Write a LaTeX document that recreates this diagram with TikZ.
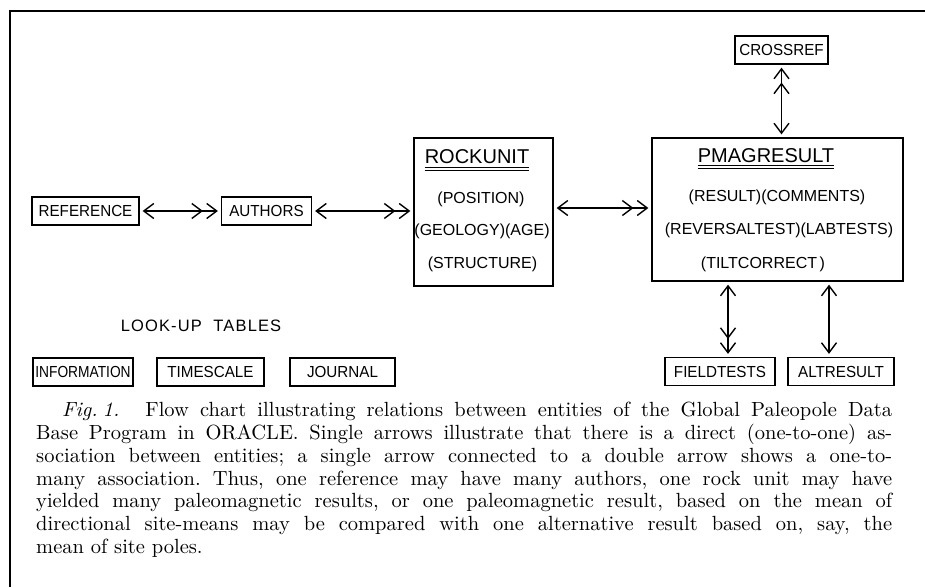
\documentclass[tikz,border=0pt]{standalone}
\usepackage{fontspec}
\setsansfont{Liberation Sans}
\newfontfamily\boxfont{Liberation Sans}[FakeStretch=0.95]
\newfontfamily\narrowbox{Liberation Sans}[FakeStretch=0.86]
\newfontfamily\capfont{lmroman10-regular}[Extension=.otf,ItalicFont=lmroman10-italic]
\usetikzlibrary{arrows.meta}
\begin{document}
\begin{tikzpicture}[x=1pt,y=-1pt,
  >={Straight Barb[length=10pt,width=15pt,sep=3pt]},
  box/.style={draw,line width=1.3pt,inner sep=0pt,minimum height=28pt,
    font=\boxfont\fontsize{16}{19}\selectfont},
  entity/.style={draw,line width=1.3pt,inner sep=0pt},
  ttl/.style={inner sep=0pt,anchor=base,font=\sffamily\fontsize{20}{24}\selectfont},
  row/.style={inner sep=0pt,anchor=base,font=\sffamily\fontsize{16}{19}\selectfont},
  link/.style={line width=1.4pt},
  uline/.style={line width=1.1pt}]
\useasboundingbox (0,0) rectangle (925,587);
% frame
\draw[line width=2.6pt] (10,587) -- (10,11) -- (925,11);

% small boxes
\node[box,minimum width=107pt] (ref) at (85.5,211) {REFERENCE};
\node[box,minimum width=90pt] (auth) at (266.5,211) {AUTHORS};
\node[box,minimum width=93pt] (cross) at (781.5,50) {CROSSREF};
\node[box,minimum width=110pt] (field) at (720,371.5) {FIELDTESTS};
\node[box,minimum width=106pt] (alt) at (841,371.5) {ALTRESULT};
\node[box,minimum width=100pt,font=\narrowbox\fontsize{16}{19}\selectfont] (info) at (83,372) {INFORMATION};
\node[box,minimum width=107pt] (time) at (210.5,372) {TIMESCALE};
\node[box,minimum width=105pt] (jour) at (342.5,372) {JOURNAL};

% entity boxes
\node[entity,minimum width=139pt,minimum height=148pt] (rock) at (483.5,212) {};
\node[entity,minimum width=251pt,minimum height=143pt] (pmag) at (777.5,209.5) {};

% ROCKUNIT contents
\node[ttl] (rt) at (477,163) {ROCKUNIT};
\draw[uline] ([yshift=-4pt]rt.south west) -- ([yshift=-4pt]rt.south east);
\draw[uline] ([yshift=-7pt]rt.south west) -- ([yshift=-7pt]rt.south east);
\node[row] (r1) at (481,203) {(POSITION)};
\node[row] (r2) at (482,235) {(GEOLOGY)(AGE)};
\node[row] (r3) at (482.5,268) {(STRUCTURE)};

% PMAGRESULT contents
\node[ttl] (pt) at (766,162) {PMAGRESULT};
\draw[uline] ([yshift=-3pt]pt.south west) -- ([yshift=-3pt]pt.south east);
\draw[uline] ([yshift=-6pt]pt.south west) -- ([yshift=-6pt]pt.south east);
\node[row] (p1) at (777,201) {(RESULT)(COMMENTS)};
\node[row] (p2) at (779,234) {(REVERSALTEST)(LABTESTS)};
\node[row] (p3) at (763,268) {(TILTCORRECT\,)};

% look-up tables label
\node[inner sep=0pt,font=\sffamily\fontsize{16.5}{19}\selectfont] (lut) at (201,326)
  {\addfontfeatures{LetterSpace=7}LOOK-UP\ \ TABLES};

% connectors
\coordinate (ry) at (0,208);
\coordinate (xc) at (781.5,0);
\coordinate (xf) at (728,0);
\coordinate (xa) at (829,0);
\draw[link,<->>] (ref.east) -- (auth.west);
\draw[link,<->>] (auth.east) -- (rock.west |- auth.east);
\draw[link,<->>] (rock.east |- ry) -- (pmag.west |- ry);
\draw[link,<->>] (pmag.north -| xc) -- (cross.south -| xc);
\draw[link,<->>] (pmag.south -| xf) -- (field.north -| xf);
\draw[link,<->] (pmag.south -| xa) -- (alt.north -| xa);

% caption
\node[anchor=north west,inner sep=0pt] (cap) at (36,402) {\vbox{%
  \capfont\fontsize{20.5}{22.8}\selectfont\frenchspacing
  \hbox to 856pt{\hspace*{26pt}\textit{Fig.\kern5pt 1.}\kern26pt Flow chart illustrating relations between entities of the Global Paleopole Data}
  \hbox to 856pt{Base Program in ORACLE. Single arrows illustrate that there is a direct (one-to-one) as-}
  \hbox to 856pt{sociation between entities; a single arrow connected to a double arrow shows a one-to-}
  \hbox to 856pt{many association. Thus, one reference may have many authors, one rock unit may have}
  \hbox to 856pt{yielded many paleomagnetic results, or one paleomagnetic result, based on the mean of}
  \hbox to 856pt{directional site-means may be compared with one alternative result based on, say, the}
  \hbox{mean of site poles.}}};
\end{tikzpicture}
\end{document}
